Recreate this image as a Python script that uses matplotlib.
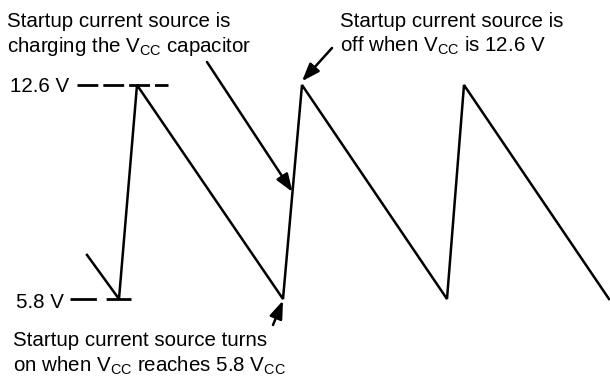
import matplotlib
matplotlib.use("Agg")
import matplotlib.pyplot as plt

# --- dados da forma de onda de V_CC (tempo em unidades arbitrárias, tensão em V) ---
t_wave = [8.7, 11.9, 13.7, 28.3, 30.2, 44.7, 46.4, 60.9]
v_wave = [7.2, 5.8, 12.6, 5.8, 12.6, 5.8, 12.6, 5.8]

v_high = 12.6
v_low = 5.8
high_label = "12.6 V"
low_label = "5.8 V"

txt_charging = ["Startup current source is", "charging the V$_{\\mathrm{CC}}$ capacitor"]
txt_off = ["Startup current source is", "off when V$_{\\mathrm{CC}}$ is 12.6 V"]
txt_on = ["Startup current source turns", "on when V$_{\\mathrm{CC}}$ reaches 5.8 V$_{\\mathrm{CC}}$"]

plt.rcParams.update({
    "font.family": ["Liberation Sans", "DejaVu Sans"],
    "font.size": 14.8,
    "mathtext.fontset": "custom",
    "mathtext.rm": "Liberation Sans",
    "mathtext.it": "Liberation Sans",
    "mathtext.bf": "Liberation Sans",
})

W, H = 610, 382
fig = plt.figure(figsize=(W / 100, H / 100), dpi=100)
ax = fig.add_axes([0, 0, 1, 1])

# escala: 12.6 V em y=85 px, 5.8 V em y=299 px
px_per_v = (299 - 85) / (v_high - v_low)
v_top = v_high + 85 / px_per_v
v_bot = v_low - (H - 299) / px_per_v
ax.set_xlim(0, W / 10)
ax.set_ylim(v_bot, v_top)
ax.axis("off")


def py(y_px):
    # converte posição vertical em pixels para volts
    return v_high + (85 - y_px) / px_per_v


ax.plot(t_wave, v_wave, color="black", lw=1.8, solid_joinstyle="miter", zorder=3)

# linhas tracejadas de referência
ax.hlines(v_high, 7.7, 16.8, color="black", lw=2.0, linestyles=(0, (7.5, 1.8)))
ax.hlines(v_low, 7.0, 13.1, color="black", lw=2.0, linestyles=(0, (9.5, 3.5)))
ax.text(1.0, py(92), high_label, ha="left", va="baseline")
ax.text(1.6, py(308), low_label, ha="left", va="baseline")

# textos
for i, s in enumerate(txt_charging):
    ax.text(0.7, py(27 + 25 * i), s, ha="left", va="baseline")
for i, s in enumerate(txt_off):
    ax.text(34.0, py(27 + 25 * i), s, ha="left", va="baseline")
for i, s in enumerate(txt_on):
    ax.text(1.3, py(346 + 26 * i), s, ha="left", va="baseline")

arrow_kw = dict(arrowstyle="-|>,head_length=0.6,head_width=0.22", color="black",
                lw=1.8, shrinkA=0, shrinkB=0, mutation_scale=18)

# seta para o meio da subida de carga
mid_t = (t_wave[3] + t_wave[4]) / 2
mid_v = (v_wave[3] + v_wave[4]) / 2
ax.annotate("", xy=(mid_t, mid_v), xytext=(20.7, py(62)), arrowprops=arrow_kw)
# seta para o pico
ax.annotate("", xy=(t_wave[4], v_wave[4] + 0.12), xytext=(33.2, py(48)), arrowprops=arrow_kw)
# seta para o vale
ax.annotate("", xy=(t_wave[3], v_wave[3] - 0.05), xytext=(27.3, py(325)), arrowprops=arrow_kw)

fig.savefig("out.png", dpi=100)
